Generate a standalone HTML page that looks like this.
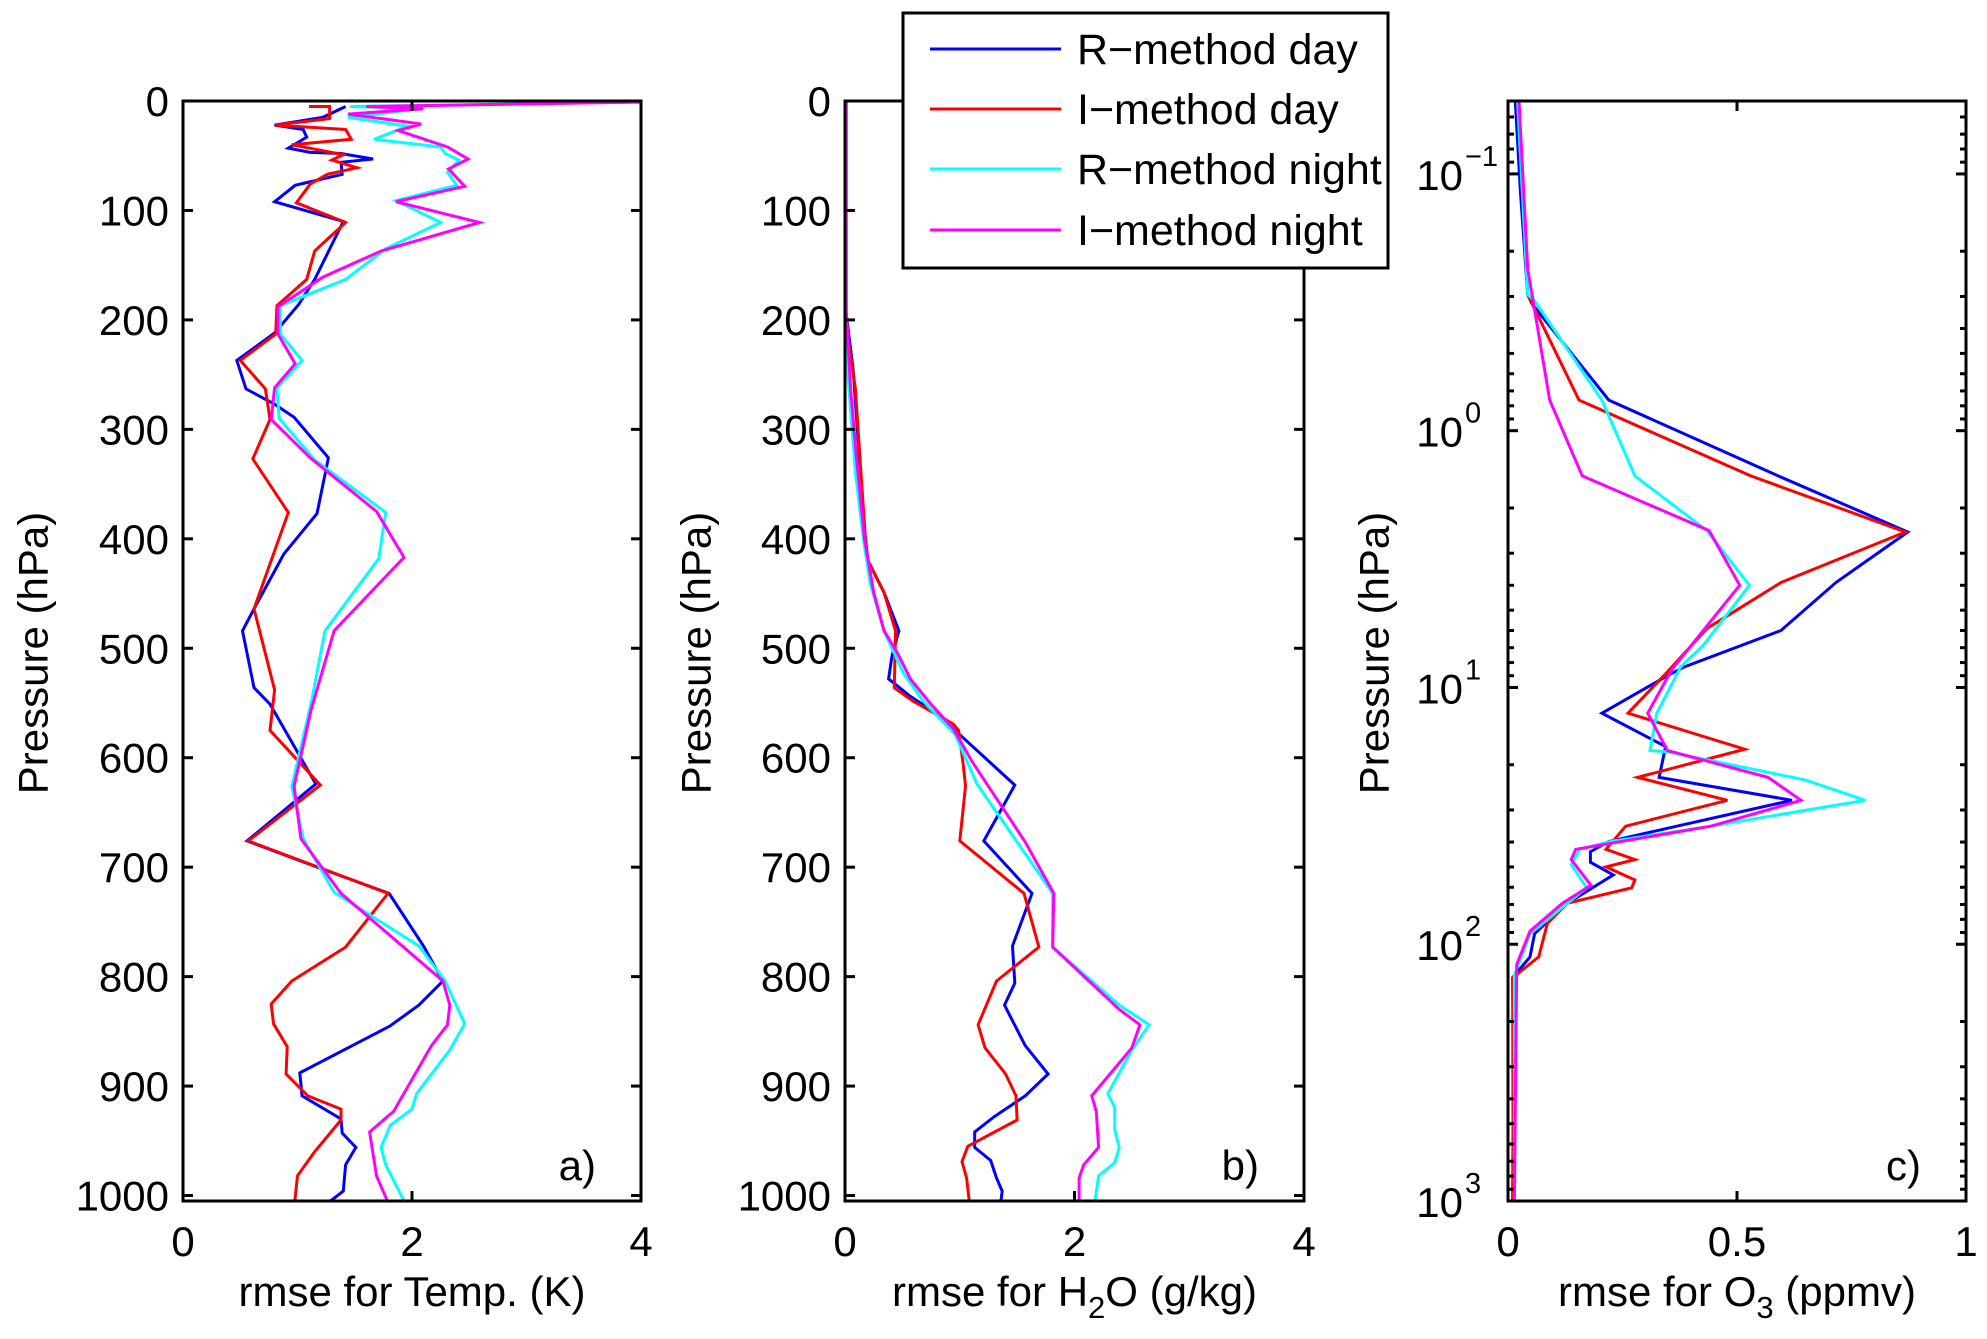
<!DOCTYPE html>
<html><head><meta charset="utf-8"><style>
html,body{margin:0;padding:0;background:#fff;}
svg{display:block;font-family:"Liberation Sans",Arial,sans-serif;}
</style></head><body>
<svg id="chart" width="1987" height="1339" viewBox="0 0 1987 1339" xmlns="http://www.w3.org/2000/svg">
<rect width="1987" height="1339" fill="#fff"/>
</svg>
<script>
// ---------- DATA: Panel a (Temperature) ----------
const tempBlueP=[5,15,22,26,33,43,47,48,53,56,67,77,92,110,163,186,212,237,263,277,289,326,377,414,464,484,536,551,624,676,701,724,772,804,826,845,888,909,930,943,956,972,996,1004,1012];
const tempBlueX=[1.42,1.22,0.80,1.05,1.08,0.92,1.11,1.38,1.66,1.38,1.39,0.98,0.80,1.40,1.15,1.01,0.80,0.47,0.55,0.80,0.97,1.27,1.17,0.88,0.62,0.52,0.62,0.76,1.16,0.56,1.20,1.80,2.10,2.27,2.06,1.81,1.02,1.04,1.38,1.39,1.51,1.42,1.40,1.30,1.15];
const tempRedP=[5,5,16,22,26,35,40,49,54,61,67,76,93,111,137,163,187,213,237,263,291,327,376,464,538,575,600,625,676,724,773,804,825,843,864,889,909,921,931,960,982,1011];
const tempRedX=[1.10,1.28,1.28,0.81,1.42,1.47,0.95,1.40,1.30,1.52,1.26,1.11,0.99,1.42,1.15,1.08,0.82,0.81,0.50,0.72,0.76,0.61,0.92,0.62,0.80,0.76,0.98,1.20,0.57,1.79,1.42,0.95,0.77,0.79,0.91,0.90,1.09,1.38,1.38,1.15,1.00,0.97];
const tempCyanP=[1,5,7,15,23,35,42,48,54,65,77,91,111,135,163,187,213,237,262,290,328,376,418,484,550,626,674,723,772,804,843,867,907,921,936,956,972,1011];
const tempCyanX=[4.0,1.46,2.08,1.44,1.96,1.67,2.25,2.29,2.41,2.31,2.39,1.86,2.25,1.77,1.42,0.85,0.85,1.04,0.82,0.84,1.15,1.77,1.71,1.24,1.12,0.95,1.05,1.32,2.06,2.29,2.46,2.33,2.04,2.00,1.81,1.73,1.77,1.96];
const tempMagP=[1,5,7,12,21,27,42,53,62,78,92,111,137,161,188,213,240,262,291,326,375,417,484,556,626,674,724,804,826,844,863,923,942,982,1011];
const tempMagX=[4.0,1.60,2.10,1.44,2.08,1.88,2.31,2.49,2.32,2.46,1.86,2.59,1.73,1.22,0.83,0.83,0.98,0.80,0.77,1.11,1.69,1.93,1.32,1.12,0.97,1.03,1.38,2.27,2.33,2.31,2.17,1.84,1.63,1.69,1.81];
// ---------- DATA: Panel b (H2O) ----------
const h2oBlueP=[0,194,244,318,384,420,449,484,507,528,544,557,579,625,676,724,772,806,826,863,889,909,928,942,956,968,984,996,1012];
const h2oBlueX=[0.01,0.01,0.07,0.12,0.16,0.20,0.34,0.47,0.41,0.38,0.57,0.76,1.00,1.48,1.21,1.63,1.46,1.48,1.39,1.57,1.77,1.57,1.30,1.13,1.13,1.27,1.32,1.37,1.35];
const h2oRedP=[0,194,219,262,342,418,449,484,536,548,569,575,606,626,676,724,773,804,844,865,889,909,931,955,969,984,1012];
const h2oRedX=[0.01,0.01,0.03,0.09,0.14,0.19,0.34,0.44,0.43,0.59,0.94,0.99,1.03,1.05,1.00,1.56,1.69,1.32,1.16,1.22,1.40,1.49,1.50,1.07,1.02,1.06,1.09];
const h2oCyanP=[0,227,256,338,400,441,484,523,548,579,624,724,773,826,844,867,907,919,940,956,970,982,1012];
const h2oCyanX=[0.01,0.01,0.03,0.09,0.16,0.22,0.34,0.51,0.68,0.96,1.15,1.81,1.81,2.39,2.65,2.50,2.29,2.35,2.35,2.39,2.35,2.21,2.17];
const h2oMagP=[0,190,264,326,400,449,484,503,528,550,573,604,677,724,773,830,844,865,909,923,956,972,984,1012];
const h2oMagX=[0.01,0.01,0.05,0.10,0.17,0.25,0.34,0.45,0.57,0.74,0.94,1.11,1.57,1.82,1.81,2.39,2.57,2.50,2.15,2.19,2.21,2.08,2.04,2.04];
// ---------- DATA: Panel c (O3, log pressure) ----------
const o3BlueP=[0.052,0.117,0.295,0.32,0.76,1.5,2.48,3.9,6.0,8.3,9.0,12.6,17,22.4,27.5,39.8,43.6,47.9,53.7,69.2,91,112,135,219,1000];
const o3BlueX=[0.016,0.027,0.043,0.052,0.22,0.59,0.873,0.716,0.596,0.386,0.348,0.205,0.344,0.33,0.62,0.22,0.18,0.18,0.23,0.13,0.058,0.048,0.01,0.012,0.01];
const o3RedP=[0.052,0.295,0.76,1.5,2.48,3.9,5.9,8.7,12.6,17.4,22.4,27.5,34.7,42.7,46.8,50,56.2,60.3,69.2,83,112,135,537,1000];
const o3RedX=[0.021,0.043,0.155,0.53,0.868,0.596,0.434,0.348,0.262,0.517,0.283,0.479,0.257,0.214,0.277,0.214,0.277,0.27,0.13,0.086,0.067,0.01,0.011,0.011];
const o3CyanP=[0.052,0.295,0.31,0.76,1.5,2.45,4.0,6.9,8.3,12.6,17.6,17.8,22.9,27.5,34.7,39.8,42.7,49,60.3,69.2,91,132,1000];
const o3CyanX=[0.021,0.043,0.057,0.205,0.277,0.434,0.527,0.425,0.377,0.325,0.31,0.348,0.649,0.78,0.443,0.224,0.157,0.138,0.172,0.13,0.048,0.014,0.014];
const o3MagP=[0.052,0.234,0.76,1.5,2.45,4.0,8.5,12.6,17.6,22.4,27.5,34.7,42.7,46.8,58.9,69.2,89,120,1000];
const o3MagX=[0.024,0.043,0.091,0.162,0.439,0.506,0.358,0.305,0.348,0.568,0.64,0.443,0.148,0.138,0.181,0.119,0.048,0.019,0.014];
// ---------- Tick labels ----------
const linTicksY=[0,100,200,300,400,500,600,700,800,900,1000];
const tempTicksX=[0,2,4];
const o3TicksX=[0,0.5,1];
const logDecades=[-1,0,1,2,3];
const seriesNames=["R\u2212method day","I\u2212method day","R\u2212method night","I\u2212method night"];
const COLORS=["#0000ff","#ff0000","#00ffff","#ff00ff"];

const NS="http://www.w3.org/2000/svg";
const svg=document.getElementById('chart');
function mk(tag,attrs,parent){const e=document.createElementNS(NS,tag);for(const k in attrs)e.setAttribute(k,attrs[k]);(parent||svg).appendChild(e);return e;}

const TOP=101,BOT=1201;
function linY(p){return TOP+(p/1005)*(BOT-TOP);}
const LMIN=-1.284,LMAX=3.0;
function logY(p){return TOP+(Math.log10(p)-LMIN)/(LMAX-LMIN)*(BOT-TOP);}

function drawPanel(id,L,R,xmax,yFn,series,xlabelParts,ylab,panelLetter,isLog,xticks){
  const g=mk('g',{});
  
  
  const xs=v=>L+v/xmax*(R-L);
  const clip=mk('clipPath',{id:'clip-'+id},g);
  mk('rect',{x:L,y:TOP,width:R-L,height:BOT-TOP},clip);
  const lines=mk('g',{'clip-path':'url(#clip-'+id+')'},g);
  series.forEach((s,i)=>{
    const pts=s.p.map((p,j)=>xs(s.x[j]).toFixed(1)+','+yFn(p).toFixed(1)).join(' ');
    const pl=mk('polyline',{points:pts,fill:'none',stroke:COLORS[i],'stroke-width':3,'stroke-linejoin':'miter'},lines);
    
    
  });
  const box=mk('rect',{x:L,y:TOP,width:R-L,height:BOT-TOP,fill:'none',stroke:'#000','stroke-width':3},g);
  
  
  xticks.forEach(v=>{
    const x=xs(v);
    mk('line',{x1:x,y1:BOT,x2:x,y2:BOT-10,stroke:'#000','stroke-width':3},g);
    mk('line',{x1:x,y1:TOP,x2:x,y2:TOP+10,stroke:'#000','stroke-width':3},g);
    const t=mk('text',{x:x,y:1256,'font-size':42,'text-anchor':'middle'},g);
    t.textContent=String(v);
    
    
  });
  if(!isLog){
    linTicksY.forEach(v=>{
      const y=yFn(v);
      mk('line',{x1:L,y1:y,x2:L+10,y2:y,stroke:'#000','stroke-width':3},g);
      mk('line',{x1:R,y1:y,x2:R-10,y2:y,stroke:'#000','stroke-width':3},g);
      const t=mk('text',{x:L-14,y:y+15,'font-size':42,'text-anchor':'end'},g);
      t.textContent=String(v);
      
      
    });
  } else {
    for(let d=-2;d<=3;d++){for(let m=1;m<10;m++){
      const p=m*Math.pow(10,d);const lp=Math.log10(p);
      if(lp<LMIN-1e-9||lp>LMAX+1e-9)continue;
      const y=yFn(p);const len=m===1?10:6;
      mk('line',{x1:L,y1:y,x2:L+len,y2:y,stroke:'#000','stroke-width':3},g);
      mk('line',{x1:R,y1:y,x2:R-len,y2:y,stroke:'#000','stroke-width':3},g);
    }}
    logDecades.forEach(d=>{
      const y=yFn(Math.pow(10,d));
      const t=mk('text',{x:L-45,y:y+16,'font-size':42,'text-anchor':'end'},g);
      t.textContent='10';
      
      
      const e=mk('text',{x:L-43,y:y-8,'font-size':29,'text-anchor':'start'},g);
      e.textContent=d<0?'\u2212'+(-d):String(d);
      
      
    });
  }
  const xl=mk('text',{x:(L+R)/2,y:1306,'font-size':42,'text-anchor':'middle'},g);
  
  
  xlabelParts.forEach(pt=>{
    const ts=mk('tspan',{},xl);
    if(pt.sub){ts.setAttribute('font-size','31');ts.setAttribute('dy','12');}
    else if(pt.after){ts.setAttribute('dy','-12');}
    ts.textContent=pt.t;
  });
  const yl=mk('text',{x:0,y:0,'font-size':42,'text-anchor':'middle','dominant-baseline':'central',transform:'translate('+ylab+',653) rotate(-90)'},g);
  yl.textContent='Pressure (hPa)';
  
  
  const pl=mk('text',{x:R-45,y:1180,'font-size':42,'text-anchor':'end'},g);
  pl.textContent=panelLetter;
  
  
}

drawPanel('temp',183,641,4,linY,[
  {name:'r-day',p:tempBlueP,x:tempBlueX},{name:'i-day',p:tempRedP,x:tempRedX},
  {name:'r-night',p:tempCyanP,x:tempCyanX},{name:'i-night',p:tempMagP,x:tempMagX}],
  [{t:'rmse for Temp. (K)'}],33,'a)',false,tempTicksX);
drawPanel('h2o',845,1304,4,linY,[
  {name:'r-day',p:h2oBlueP,x:h2oBlueX},{name:'i-day',p:h2oRedP,x:h2oRedX},
  {name:'r-night',p:h2oCyanP,x:h2oCyanX},{name:'i-night',p:h2oMagP,x:h2oMagX}],
  [{t:'rmse for H'},{t:'2',sub:true},{t:'O (g/kg)',after:true}],696,'b)',false,tempTicksX);
drawPanel('o3',1508,1966,1,logY,[
  {name:'r-day',p:o3BlueP,x:o3BlueX},{name:'i-day',p:o3RedP,x:o3RedX},
  {name:'r-night',p:o3CyanP,x:o3CyanX},{name:'i-night',p:o3MagP,x:o3MagX}],
  [{t:'rmse for O'},{t:'3',sub:true},{t:' (ppmv)',after:true}],1374,'c)',true,o3TicksX);

const lg=mk('g',{});


mk('rect',{x:903,y:13,width:485,height:255,fill:'#fff',stroke:'#000','stroke-width':3},lg);
const rowsY=[49,109,169,230];
seriesNames.forEach((n,i)=>{
  const e=mk('g',{},lg);
  
  
  mk('line',{x1:930,y1:rowsY[i],x2:1061,y2:rowsY[i],stroke:COLORS[i],'stroke-width':3},e);
  const t=mk('text',{x:1077,y:rowsY[i]+15,'font-size':43},e);
  t.textContent=n;
});
</script>
</body></html>
